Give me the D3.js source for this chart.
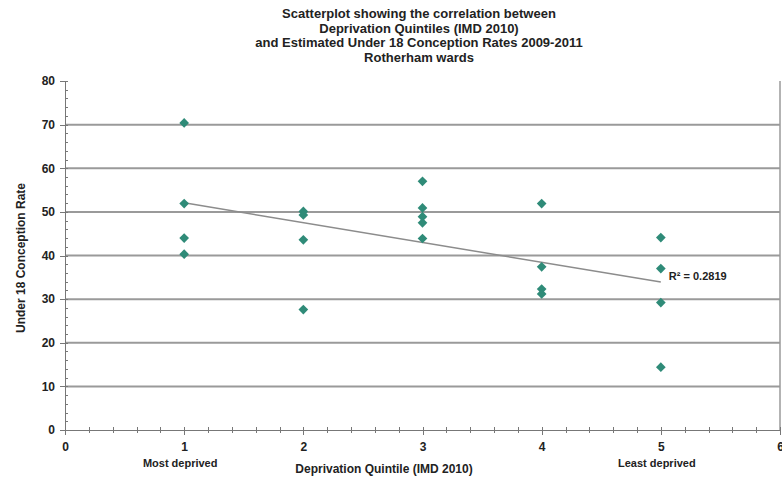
<!DOCTYPE html>
<html>
<head>
    <title></title>
    <style>
        body { margin: 0; background: #fff; }
        text { font-family: "Liberation Sans", Arial, sans-serif; font-weight: bold; fill: #222; }
        .grid line { stroke: #9a9a9a; stroke-width: 2px; }
        .axis path, .axis line { stroke: #777; shape-rendering: crispEdges; }
        .trend { stroke: #8c8c8c; stroke-width: 1.5px; }
        .pt { fill: #2f8b78; }
    </style>
</head>
<body>
<script src="https://cdn.jsdelivr.net/npm/d3@7"></script>
<script>
    var width = 782;
    var height = 481;

    var titleLines = ["Scatterplot showing the correlation between",
                      "Deprivation Quintiles (IMD 2010)",
                      "and Estimated Under 18 Conception Rates 2009-2011",
                      "Rotherham wards"];

    // one entry per ward
    var quintile = [1, 1, 1, 1,
                    2, 2, 2, 2,
                    3, 3, 3, 3, 3,
                    4, 4, 4, 4,
                    5, 5, 5, 5];
    var rate = [70.4, 51.9, 44.0, 40.3,
                50.1, 49.3, 43.6, 27.6,
                57.0, 50.9, 48.9, 47.5, 43.9,
                51.9, 37.4, 32.3, 31.2,
                44.1, 37.0, 29.2, 14.4];

    var yTicks = [0, 10, 20, 30, 40, 50, 60, 70, 80];
    var xTicks = [0, 1, 2, 3, 4, 5, 6];
    var endLabels = [{x: 1, text: "Most deprived"}, {x: 5, text: "Least deprived"}];
    var r2Text = "R\u00b2 = 0.2819";

    var svg = d3.select("body").append("svg")
        .attr("width", width)
        .attr("height", height);

    var x = d3.scaleLinear().domain([0, 6]).range([65, 780]);
    var y = d3.scaleLinear().domain([0, 80]).range([430, 81]);

    // title
    svg.append("g").selectAll("text").data(titleLines).enter().append("text")
        .attr("x", 419)
        .attr("y", function(d, i) { return 18 + i * 14.5; })
        .attr("text-anchor", "middle")
        .style("font-size", "13px")
        .text(function(d) { return d; });

    // gridlines
    svg.append("g").attr("class", "grid").selectAll("line")
        .data(yTicks.filter(function(d) { return d > 0 && d < 80; }))
        .enter().append("line")
        .attr("x1", x(0)).attr("x2", x(6))
        .attr("y1", function(d) { return y(d); })
        .attr("y2", function(d) { return y(d); });

    // right border of plot area
    svg.append("line")
        .attr("x1", x(6)).attr("x2", x(6))
        .attr("y1", y(80)).attr("y2", y(0))
        .attr("stroke", "#9a9a9a").attr("stroke-width", 1.5);

    // minor ticks
    svg.append("g").attr("class", "axis")
        .attr("transform", "translate(" + x(0) + ",0)")
        .call(d3.axisLeft(y).ticks(40).tickSize(3).tickFormat(""))
        .call(function(g) { g.selectAll("line").attr("x2", 3); g.select(".domain").remove(); });
    svg.append("g").attr("class", "axis")
        .attr("transform", "translate(0," + y(0) + ")")
        .call(d3.axisBottom(x).ticks(30).tickSize(3).tickFormat(""))
        .call(function(g) { g.selectAll("line").attr("y1", -3); g.select(".domain").remove(); });

    // major axes
    var yAxis = svg.append("g").attr("class", "axis")
        .attr("transform", "translate(" + x(0) + ",0)")
        .call(d3.axisLeft(y).tickValues(yTicks).tickFormat(d3.format("d"))
            .tickSize(5).tickSizeOuter(0).tickPadding(5));
    yAxis.selectAll("text").style("font-size", "12px");

    var xAxis = svg.append("g").attr("class", "axis")
        .attr("transform", "translate(0," + y(0) + ")")
        .call(d3.axisBottom(x).tickValues(xTicks).tickFormat(d3.format("d"))
            .tickSize(5).tickSizeOuter(0).tickPadding(7));
    xAxis.selectAll("text").style("font-size", "12px");

    // end labels
    svg.append("g").selectAll("text").data(endLabels).enter().append("text")
        .attr("x", function(d) { return x(d.x) - 4; })
        .attr("y", 467)
        .attr("text-anchor", "middle")
        .style("font-size", "11px")
        .text(function(d) { return d.text; });

    // axis titles
    svg.append("text")
        .attr("x", 384).attr("y", 473)
        .attr("text-anchor", "middle")
        .style("font-size", "12px")
        .text("Deprivation Quintile (IMD 2010)");
    svg.append("text")
        .attr("transform", "translate(25," + 258 + ")rotate(-90)")
        .attr("text-anchor", "middle")
        .style("font-size", "12px")
        .text("Under 18 Conception Rate");

    // linear trend line
    var pts = quintile.map(function(q, i) { return [q, rate[i]]; });
    var mx = d3.mean(quintile), my = d3.mean(rate);
    var sxy = d3.sum(pts, function(p) { return (p[0] - mx) * (p[1] - my); });
    var sxx = d3.sum(pts, function(p) { return (p[0] - mx) * (p[0] - mx); });
    var slope = sxy / sxx;
    var intercept = my - slope * mx;
    var x0 = d3.min(quintile), x1 = d3.max(quintile);
    svg.append("line").attr("class", "trend")
        .attr("x1", x(x0)).attr("y1", y(intercept + slope * x0))
        .attr("x2", x(x1)).attr("y2", y(intercept + slope * x1));
    svg.append("text")
        .attr("x", x(x1) + 8).attr("y", y(intercept + slope * x1) - 2)
        .style("font-size", "11px")
        .text(r2Text);

    // points
    svg.append("g").selectAll("path").data(pts).enter().append("path")
        .attr("class", "pt")
        .attr("d", d3.symbol().type(d3.symbolDiamond2).size(60))
        .attr("transform", function(d) { return "translate(" + x(d[0]) + "," + y(d[1]) + ")"; });
</script>
</body>
</html>
